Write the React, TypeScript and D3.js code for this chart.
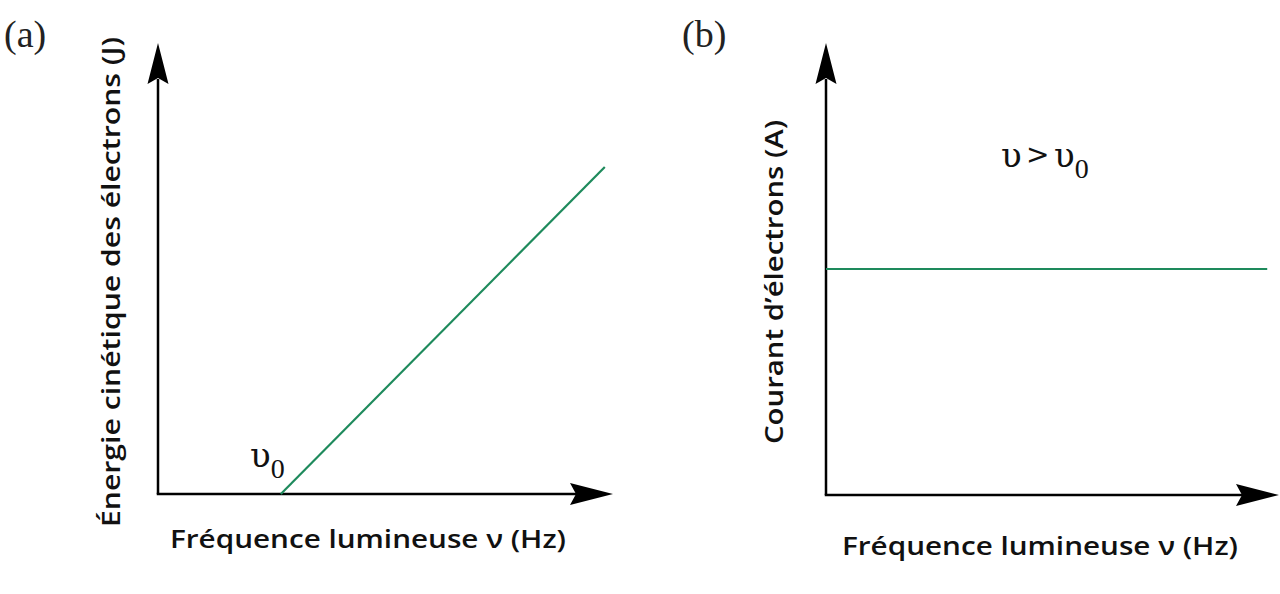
import React from "react";
import * as d3 from "d3";

// Panel (a): kinetic energy vs frequency (relative units 0-100)
const lineAFreq = [27, 98.2];
const lineAEnergy = [0, 72.5];
// Panel (b): current vs frequency
const lineBFreq = [0, 97.4];
const lineBCurrent = [50, 50];

const xLabel = "Fréquence lumineuse ν (Hz)";
const yLabelA = "Énergie cinétique des électrons (J)";
const yLabelB = "Courant d’électrons (A)";

const SANS = "'Open Sans', Lato, sans-serif";
const SERIF = "'Liberation Serif', 'DejaVu Serif', serif";
const MATH = "'DejaVu Serif', serif";
const GREEN = "#1e8a5c";

function arrowUp(x: number, tipY: number) {
  return `M${x},${tipY} L${x + 10.5},${tipY + 41} L${x},${tipY + 35} L${x - 10.5},${tipY + 41} Z`;
}
function arrowRight(tipX: number, y: number) {
  return `M${tipX},${y} L${tipX - 43},${y - 11} L${tipX - 37},${y} L${tipX - 43},${y + 11} Z`;
}

export default function App() {
  const xa = d3.scaleLinear().domain([0, 100]).range([158, 613]);
  const ya = d3.scaleLinear().domain([0, 100]).range([494, 43]);
  const xb = d3.scaleLinear().domain([0, 100]).range([826, 1279]);
  const yb = d3.scaleLinear().domain([0, 100]).range([495, 43]);

  const lineA = d3
    .line<number>()
    .x((d) => xa(d))
    .y((_, i) => ya(lineAEnergy[i]));
  const lineB = d3
    .line<number>()
    .x((d) => xb(d))
    .y((_, i) => yb(lineBCurrent[i]));

  return (
    <svg
      width={1280}
      height={594}
      style={{ position: "absolute", left: 0, top: 0, background: "#fff" }}
    >
      <rect width={1280} height={594} fill="#fff" />
      <text x={4} y={47} fontFamily={SERIF} fontSize={38} fill="#222">(a)</text>
      <text x={682} y={47} fontFamily={SERIF} fontSize={38} fill="#222">(b)</text>

      {/* Panel a */}
      <line x1={xa(0)} y1={ya(0)} x2={xa(0)} y2={ya(100) + 36} stroke="#000" strokeWidth={2.5} />
      <path d={arrowUp(xa(0), ya(100))} fill="#000" />
      <line x1={xa(0) - 1.25} y1={ya(0)} x2={xa(100) - 36} y2={ya(0)} stroke="#000" strokeWidth={2.5} />
      <path d={arrowRight(xa(100), ya(0))} fill="#000" />
      <path d={lineA(lineAFreq) || ""} fill="none" stroke={GREEN} strokeWidth={2.2} />
      <text x={250} y={467} fontFamily={MATH} fontSize={34} fill="#111">
        υ<tspan fontFamily={SERIF} fontSize={28} dy={11}>0</tspan>
      </text>
      <text
        x={368}
        y={548}
        fontFamily={SANS}
        fontSize={25}
        fontWeight={600}
        textAnchor="middle"
        fill="#111"
        textLength={396}
        lengthAdjust="spacingAndGlyphs"
      >
        {xLabel}
      </text>
      <text
        transform={`translate(120,282) rotate(-90)`}
        fontFamily={SANS}
        fontSize={25}
        fontWeight={600}
        textAnchor="middle"
        fill="#111"
        textLength={490}
        lengthAdjust="spacingAndGlyphs"
      >
        {yLabelA}
      </text>

      {/* Panel b */}
      <line x1={xb(0)} y1={yb(0)} x2={xb(0)} y2={yb(100) + 36} stroke="#000" strokeWidth={2.5} />
      <path d={arrowUp(xb(0), yb(100))} fill="#000" />
      <line x1={xb(0) - 1.25} y1={yb(0)} x2={xb(100) - 36} y2={yb(0)} stroke="#000" strokeWidth={2.5} />
      <path d={arrowRight(xb(100), yb(0))} fill="#000" />
      <path d={lineB(lineBFreq) || ""} fill="none" stroke={GREEN} strokeWidth={2.2} />
      <text x={1001} y={167} fontFamily={MATH} fontSize={34} fill="#111">υ</text>
      <text x={1026} y={164} fontFamily="'DejaVu Sans', sans-serif" fontSize={28} fill="#111">&gt;</text>
      <text x={1054} y={167} fontFamily={MATH} fontSize={34} fill="#111">
        υ<tspan fontFamily={SERIF} fontSize={28} dy={11}>0</tspan>
      </text>
      <text
        x={1040}
        y={555}
        fontFamily={SANS}
        fontSize={25}
        fontWeight={600}
        textAnchor="middle"
        fill="#111"
        textLength={396}
        lengthAdjust="spacingAndGlyphs"
      >
        {xLabel}
      </text>
      <text
        transform={`translate(783,282) rotate(-90)`}
        fontFamily={SANS}
        fontSize={25}
        fontWeight={600}
        textAnchor="middle"
        fill="#111"
        textLength={324}
        lengthAdjust="spacingAndGlyphs"
      >
        {yLabelB}
      </text>
    </svg>
  );
}
